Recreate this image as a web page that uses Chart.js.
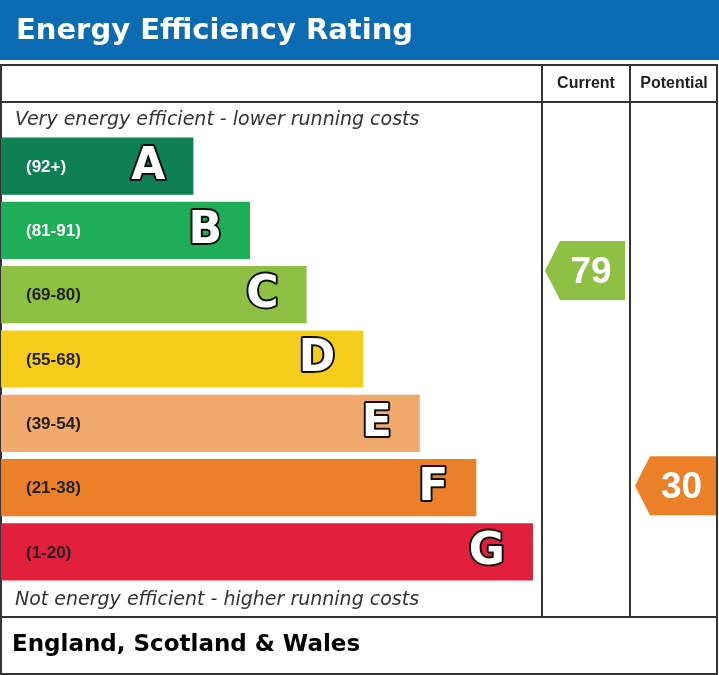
<!DOCTYPE html>
<html>
<head>
<meta charset="utf-8">
<script src="https://cdn.jsdelivr.net/npm/chart.js@4"></script>
<style>
  body { margin: 0; background: #fff; }
  #wrap { width: 719px; height: 675px; }
</style>
</head>
<body>
<div id="wrap"><canvas id="epc" width="719" height="675"></canvas></div>
<script>
// bands, top (most efficient) first
var bandLetters = ['A', 'B', 'C', 'D', 'E', 'F', 'G']
var bandRanges = ['(92+)', '(81-91)', '(69-80)', '(55-68)', '(39-54)', '(21-38)', '(1-20)']
var bandLower = [92, 81, 69, 55, 39, 21, 1]
var bandUpper = [100, 91, 80, 68, 54, 38, 20]
var bandLength = [34, 44, 54, 64, 74, 84, 94]
var bandColors = ['#0e8054', '#1fae58', '#8dc043', '#f6cd1a', '#f2a96c', '#ec8028', '#e2203d']
var labelColors = ['#fff', '#fff', '#222', '#222', '#222', '#222', '#222']
var currentRating = 79
var potentialRating = 30

var FONT = '"Liberation Sans", Arial, sans-serif'
var WIDE = '"DejaVu Sans", sans-serif'

function bandOf(v) {
    for (var i = 0; i < bandLower.length; i++) if (v >= bandLower[i]) return i
    return bandLower.length - 1
}

var epcPlugin = {
    id: 'epc',
    beforeDraw: function (chart) {
        var c = chart.ctx
        c.save()
        // title bar
        c.fillStyle = '#0b6cb4'
        c.fillRect(0, 0, 719, 60)
        c.fillStyle = '#fff'
        c.font = 'bold 29px ' + WIDE
        c.textBaseline = 'middle'
        c.fillText('Energy Efficiency Rating', 16, 31)
        // frame
        c.strokeStyle = '#333'
        c.lineWidth = 2
        c.strokeRect(1, 65, 716, 609)
        c.beginPath()
        c.moveTo(1, 102); c.lineTo(717, 102)
        c.moveTo(542, 65); c.lineTo(542, 617)
        c.moveTo(630, 65); c.lineTo(630, 617)
        c.moveTo(1, 617); c.lineTo(717, 617)
        c.stroke()
        c.fillStyle = '#222'
        c.font = 'bold 16px ' + FONT
        c.textAlign = 'center'
        c.fillText('Current', 586, 84)
        c.fillText('Potential', 674, 84)
        c.textAlign = 'left'
        c.fillStyle = '#333'
        c.font = 'italic 19px ' + WIDE
        c.fillText('Very energy efficient - lower running costs', 15, 120)
        c.fillText('Not energy efficient - higher running costs', 15, 600)
        c.fillStyle = '#000'
        c.font = 'bold 23px ' + WIDE
        c.fillText('England, Scotland & Wales', 12, 645)
        c.restore()
    },
    afterDatasetsDraw: function (chart) {
        var c = chart.ctx
        var meta = chart.getDatasetMeta(0)
        c.save()
        c.textBaseline = 'middle'
        c.lineJoin = 'round'
        meta.data.forEach(function (bar, i) {
            c.fillStyle = labelColors[i]
            c.font = 'bold 17px ' + FONT
            c.textAlign = 'left'
            c.fillText(bandRanges[i], 26, bar.y + 1)
            c.fillStyle = '#fff'
            c.font = 'bold 44px ' + WIDE
            c.textAlign = 'right'
            c.lineWidth = 4
            c.strokeStyle = '#111'
            c.strokeText(bandLetters[i], bar.x - 28, bar.y + 1)
            c.fillText(bandLetters[i], bar.x - 28, bar.y + 1)
        })
        var pitch = meta.data[1].y - meta.data[0].y
        function arrow(v, left, right) {
            var b = bandOf(v)
            var top = meta.data[b].y - pitch / 2
            var y = top + (bandUpper[b] - v + 0.5) / (bandUpper[b] - bandLower[b] + 1) * pitch
            var h = 59
            c.fillStyle = bandColors[b]
            c.beginPath()
            c.moveTo(left, y)
            c.lineTo(left + 15, y - h / 2)
            c.lineTo(right, y - h / 2)
            c.lineTo(right, y + h / 2)
            c.lineTo(left + 15, y + h / 2)
            c.closePath()
            c.fill()
            c.fillStyle = '#fff'
            c.font = 'bold 37px ' + FONT
            c.textAlign = 'center'
            c.fillText(String(v), (left + 12 + right) / 2, y + 2)
        }
        arrow(currentRating, 545, 625)
        arrow(potentialRating, 635, 716)
        c.restore()
    }
}

new Chart(document.getElementById('epc'), {
    type: 'bar',
    data: {
        labels: bandLetters,
        datasets: [{
            data: bandLength,
            backgroundColor: bandColors,
            borderWidth: 0,
            barPercentage: 0.89,
            categoryPercentage: 1
        }]
    },
    options: {
        indexAxis: 'y',
        responsive: false,
        animation: false,
        devicePixelRatio: 1,
        layout: { padding: { top: 134, bottom: 91, left: 1, right: 177 } },
        plugins: { legend: { display: false }, tooltip: { enabled: false } },
        scales: {
            x: { display: false, min: 0, max: 95.6 },
            y: { display: false }
        }
    },
    plugins: [epcPlugin]
})
</script>
</body>
</html>
